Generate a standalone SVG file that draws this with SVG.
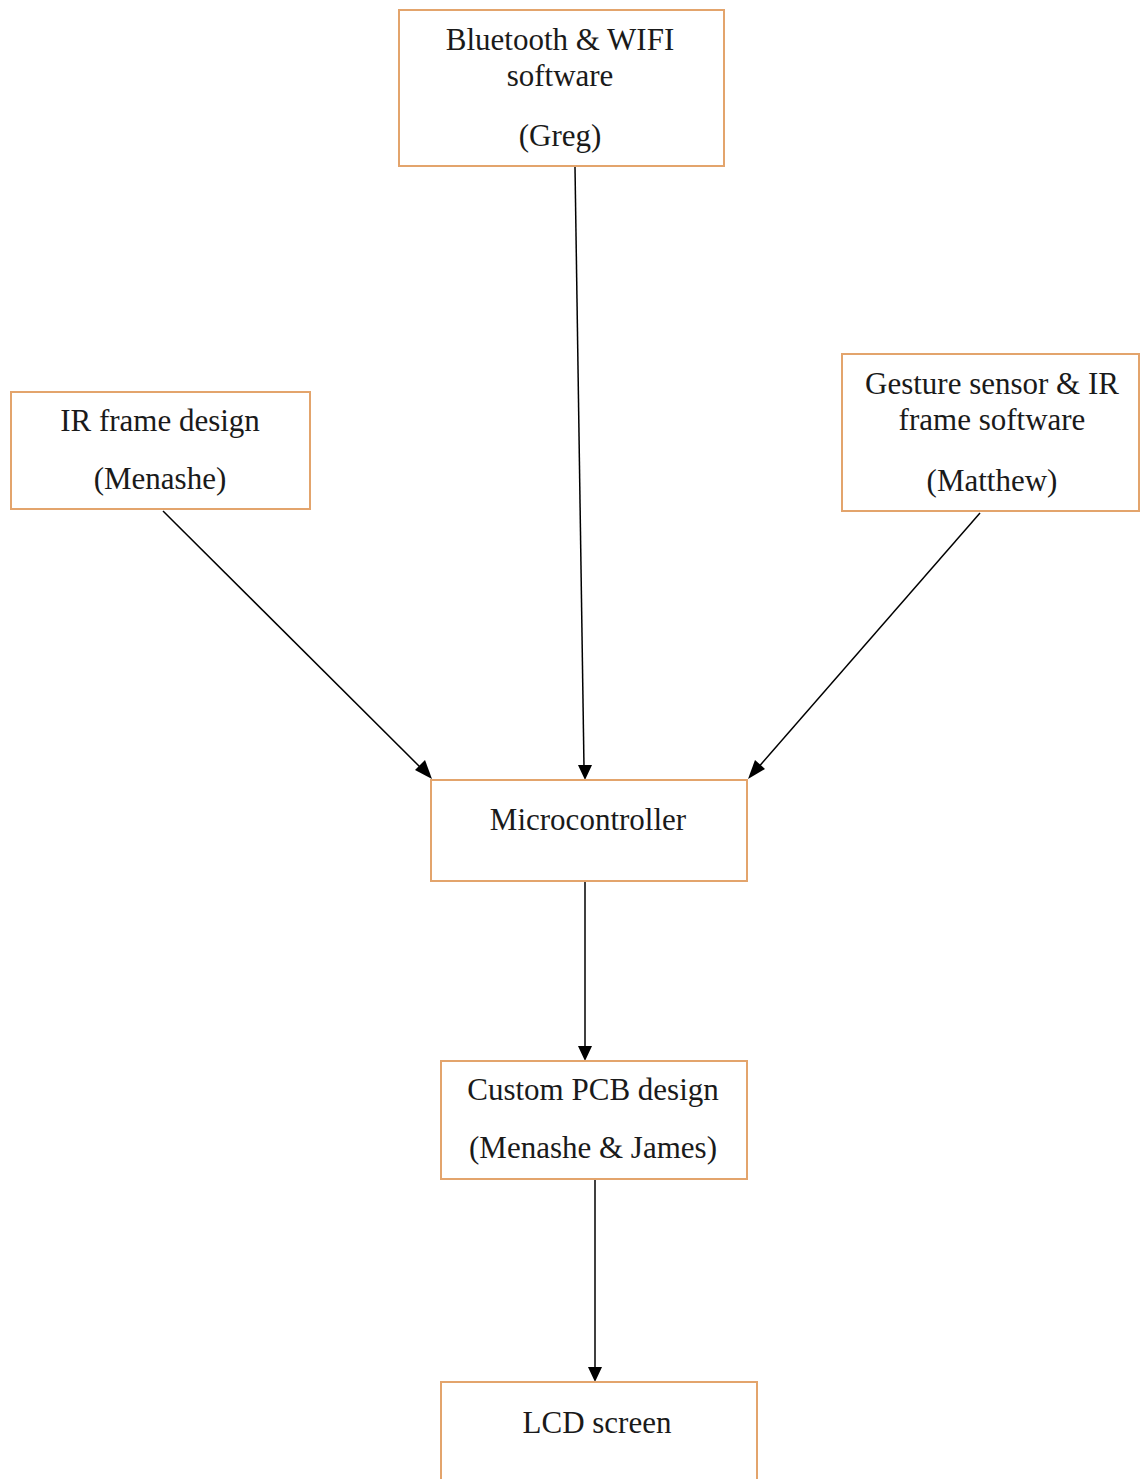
<svg xmlns="http://www.w3.org/2000/svg" width="1140" height="1479" viewBox="0 0 1140 1479">
<style>
.box{fill:#ffffff;stroke:#e3a46c;stroke-width:2}
.t{font-family:"Liberation Serif","Times New Roman",serif;font-size:31px;fill:#1a1a1a;text-anchor:middle}
.c{stroke:#000;stroke-width:1.5;fill:none}
.h{fill:#000}
</style>
<rect width="1140" height="1479" fill="#fff"/>
<g id="connectors">
<line class="c" x1="575" y1="167" x2="584" y2="767"/>
<path class="h" d="M578,765 L592,765 L585,780 z"/>
<line class="c" x1="163" y1="511" x2="423" y2="770"/>
<path class="h" d="M415,770 L425,760 L432,779 z"/>
<line class="c" x1="980" y1="513" x2="756" y2="770"/>
<path class="h" d="M748,779 L755,760 L765,769 z"/>
<line class="c" x1="585" y1="881" x2="585" y2="1050"/>
<path class="h" d="M578,1046 L592,1046 L585,1061 z"/>
<line class="c" x1="595" y1="1179" x2="595" y2="1372"/>
<path class="h" d="M588,1367 L602,1367 L595,1382 z"/>
</g>
<g id="bt">
<rect class="box" x="399" y="10" width="325" height="156"/>
<text class="t" x="560" y="50">Bluetooth &amp; WIFI</text>
<text class="t" x="560" y="86">software</text>
<text class="t" x="560" y="146">(Greg)</text>
</g>
<g id="ir">
<rect class="box" x="11" y="392" width="299" height="117"/>
<text class="t" x="160" y="431">IR frame design</text>
<text class="t" x="160" y="489">(Menashe)</text>
</g>
<g id="gesture">
<rect class="box" x="842" y="354" width="297" height="157"/>
<text class="t" x="992" y="394">Gesture sensor &amp; IR</text>
<text class="t" x="992" y="430">frame software</text>
<text class="t" x="992" y="491">(Matthew)</text>
</g>
<g id="micro">
<rect class="box" x="431" y="780" width="316" height="101"/>
<text class="t" x="588" y="830">Microcontroller</text>
</g>
<g id="pcb">
<rect class="box" x="441" y="1061" width="306" height="118"/>
<text class="t" x="593" y="1100">Custom PCB design</text>
<text class="t" x="593" y="1158">(Menashe &amp; James)</text>
</g>
<g id="lcd">
<rect class="box" x="441" y="1382" width="316" height="110"/>
<text class="t" x="597" y="1433">LCD screen</text>
</g>
</svg>
